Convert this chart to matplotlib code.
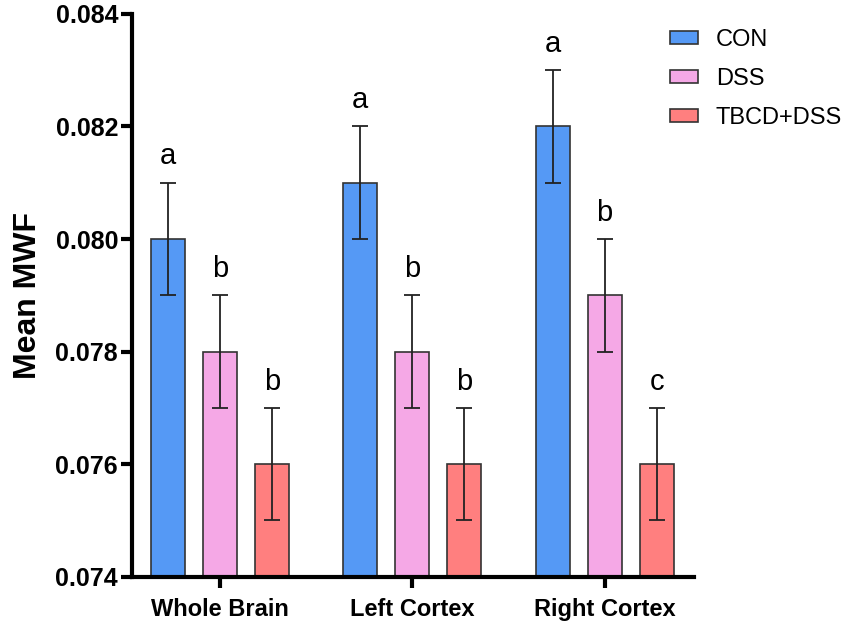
import numpy as np
import matplotlib
matplotlib.use('Agg')
import matplotlib.pyplot as plt

regions = ['Whole Brain', 'Left Cortex', 'Right Cortex']
groups = ['CON', 'DSS', 'TBCD+DSS']
colors = ['#5599F5', '#F5A8E6', '#FF7F7F']
means = {
    'CON': [0.080, 0.081, 0.082],
    'DSS': [0.078, 0.078, 0.079],
    'TBCD+DSS': [0.076, 0.076, 0.076],
}
errs = {
    'CON': [0.001, 0.001, 0.001],
    'DSS': [0.001, 0.001, 0.001],
    'TBCD+DSS': [0.001, 0.001, 0.001],
}
letters = {
    'CON': ['a', 'a', 'a'],
    'DSS': ['b', 'b', 'b'],
    'TBCD+DSS': ['b', 'b', 'c'],
}

plt.rcParams['font.family'] = ['Liberation Sans', 'DejaVu Sans']

fig = plt.figure(figsize=(8.51, 6.29), dpi=100)
ax = fig.add_axes([0.155, 0.083, 0.66, 0.895])

x = np.arange(len(regions))
off = 0.27
w = 0.177
for k, g in enumerate(groups):
    pos = x + (k - 1) * off
    ax.bar(pos, means[g], w, bottom=0, color=colors[k], edgecolor='#333333',
           linewidth=1.2, label=g, zorder=2)
    ax.errorbar(pos, means[g], yerr=errs[g], fmt='none', ecolor='#222222',
                elinewidth=1.3, capsize=6, capthick=1.3, zorder=3)
    for p, m, e, t in zip(pos, means[g], errs[g], letters[g]):
        ax.text(p, m + e + 0.00022, t, ha='center', va='bottom', fontsize=21)

ax.set_ylim(0.074, 0.084)
ax.set_xlim(-0.457, 2.462)
ax.set_yticks(np.arange(0.074, 0.0841, 0.002))
ax.set_yticklabels(['%.3f' % v for v in np.arange(0.074, 0.0841, 0.002)],
                   fontsize=18, fontweight='bold')
ax.set_xticks(x)
ax.set_xticklabels(regions, fontsize=17, fontweight='bold')
ax.set_ylabel('Mean MWF', fontsize=23, fontweight='bold', labelpad=9)

for s in ['top', 'right']:
    ax.spines[s].set_visible(False)
for s in ['left', 'bottom']:
    ax.spines[s].set_linewidth(3)
ax.tick_params(axis='both', width=3, length=8, direction='out', pad=2)
ax.tick_params(axis='x', pad=7)

fig.legend(loc='upper left', bbox_to_anchor=(0.787, 0.954), frameon=False,
           fontsize=17, handlelength=1.2, handleheight=0.5,
           labelspacing=0.72, handletextpad=0.75, borderpad=0, borderaxespad=0)

fig.savefig('out.png', dpi=100)
